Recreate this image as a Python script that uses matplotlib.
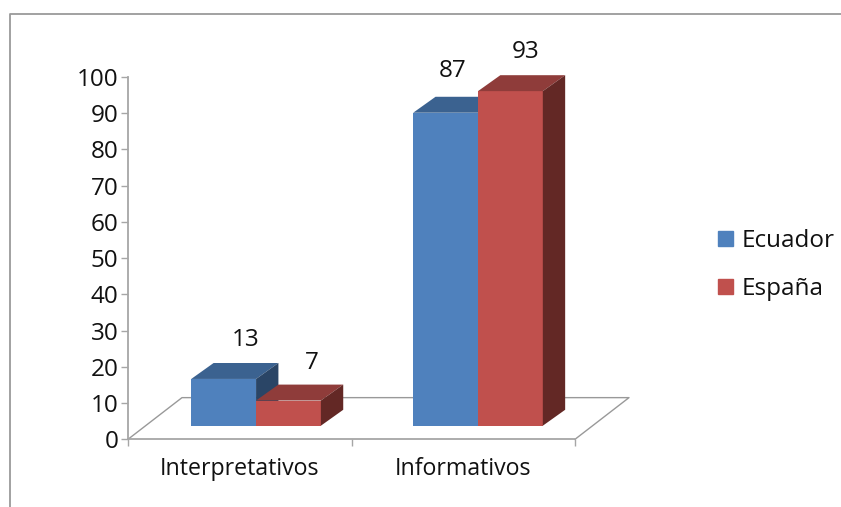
import matplotlib
matplotlib.use('Agg')
import matplotlib.pyplot as plt
import numpy as np
from matplotlib.patches import Patch, Polygon
from matplotlib.lines import Line2D

categories = ['Interpretativos', 'Informativos']
series_names = ['Ecuador', 'España']
ecuador = [13, 87]
espana = [7, 93]
yticks = list(range(0, 110, 10))

front = ['#4f81bd', '#c0504d']
top = ['#3b6290', '#8f3c3a']
side = ['#2a4566', '#632825']
grey = '#a6a6a6'
txt = '#111111'

plt.rcParams['font.family'] = 'Open Sans'
W, H = 841, 507
fig = plt.figure(figsize=(W / 100, H / 100), dpi=100, facecolor='w')
ax = fig.add_axes([128 / W, 1 - 439.3 / H, 447 / W, 362.3 / H])
ax.set_xlim(0, 2)
ax.set_ylim(0, 100)
ax.patch.set_visible(False)

# fake depth, in data units
depth_x = 54 / 223.5
depth_y = 11.5
bar_w = 0.29
base = 3.75
dx = 0.1
dy = 4.4
shrink = 0.993  # bars sit a bit behind the axis plane

def bar3d(x, val, i):
    h = val * shrink
    ax.bar(x, h, bar_w, bottom=base, color=front[i], align='edge', zorder=3 + x)
    t = base + h
    ax.add_patch(Polygon([(x, t), (x + bar_w, t), (x + bar_w + dx, t + dy), (x + dx, t + dy)],
                         fc=top[i], ec='none', clip_on=False, zorder=3 + x))
    ax.add_patch(Polygon([(x + bar_w, base), (x + bar_w + dx, base + dy), (x + bar_w + dx, t + dy), (x + bar_w, t)],
                         fc=side[i], ec='none', clip_on=False, zorder=3 + x))

# floor
ax.plot([0, depth_x, 2 + depth_x, 2], [0, depth_y, depth_y, 0], color='#999999', lw=1, clip_on=False, zorder=1)

centers = np.array([0.573, 1.566])
# label nudges in points, the original places them unevenly
off_ec = [(16, 8), (5, 10)]
off_es = [(17, 7), (11, 8)]
for k in range(2):
    bar3d(centers[k] - bar_w, ecuador[k], 0)
    bar3d(centers[k], espana[k], 1)
    ax.annotate(str(ecuador[k]), (centers[k] - bar_w / 2, base + ecuador[k] * shrink + dy), xytext=off_ec[k],
                textcoords='offset points', ha='center', va='bottom', fontsize=17.5, color=txt,
                annotation_clip=False)
    ax.annotate(str(espana[k]), (centers[k] + bar_w / 2, base + espana[k] * shrink + dy), xytext=off_es[k],
                textcoords='offset points', ha='center', va='bottom', fontsize=17.5, color=txt,
                annotation_clip=False)

for s in ['top', 'right']:
    ax.spines[s].set_visible(False)
for s in ['left', 'bottom']:
    ax.spines[s].set_color(grey)
    ax.spines[s].set_linewidth(1.3)
ax.set_yticks(yticks)
ax.set_xticks([0, 1, 2])
ax.set_xticks([0.5, 1.5], minor=True)
ax.set_xticklabels([])
ax.set_xticklabels(categories, minor=True)
ax.tick_params(axis='y', length=5, width=1, color=grey, labelsize=17.5, pad=2, labelcolor=txt)
ax.tick_params(axis='x', which='major', length=5, width=1, color=grey)
ax.tick_params(axis='x', which='minor', length=0, labelsize=16.7, pad=13, labelcolor=txt)

handles = [Patch(color=front[0]), Patch(color=front[1])]
fig.legend(handles, series_names, loc='upper left', bbox_to_anchor=(718 / W, 1 - 229 / H), frameon=False,
           fontsize=17.5, handlelength=0.6, handleheight=0.6, handletextpad=0.37, labelspacing=1.0,
           borderpad=0, borderaxespad=0, labelcolor=txt)

# chart frame, cropped on the right and at the bottom
fig.add_artist(Line2D([10 / W, 10 / W, 1], [0, 1 - 14 / H, 1 - 14 / H], color='#9a9a9a', lw=1.3))

fig.savefig('out.png', dpi=100)
